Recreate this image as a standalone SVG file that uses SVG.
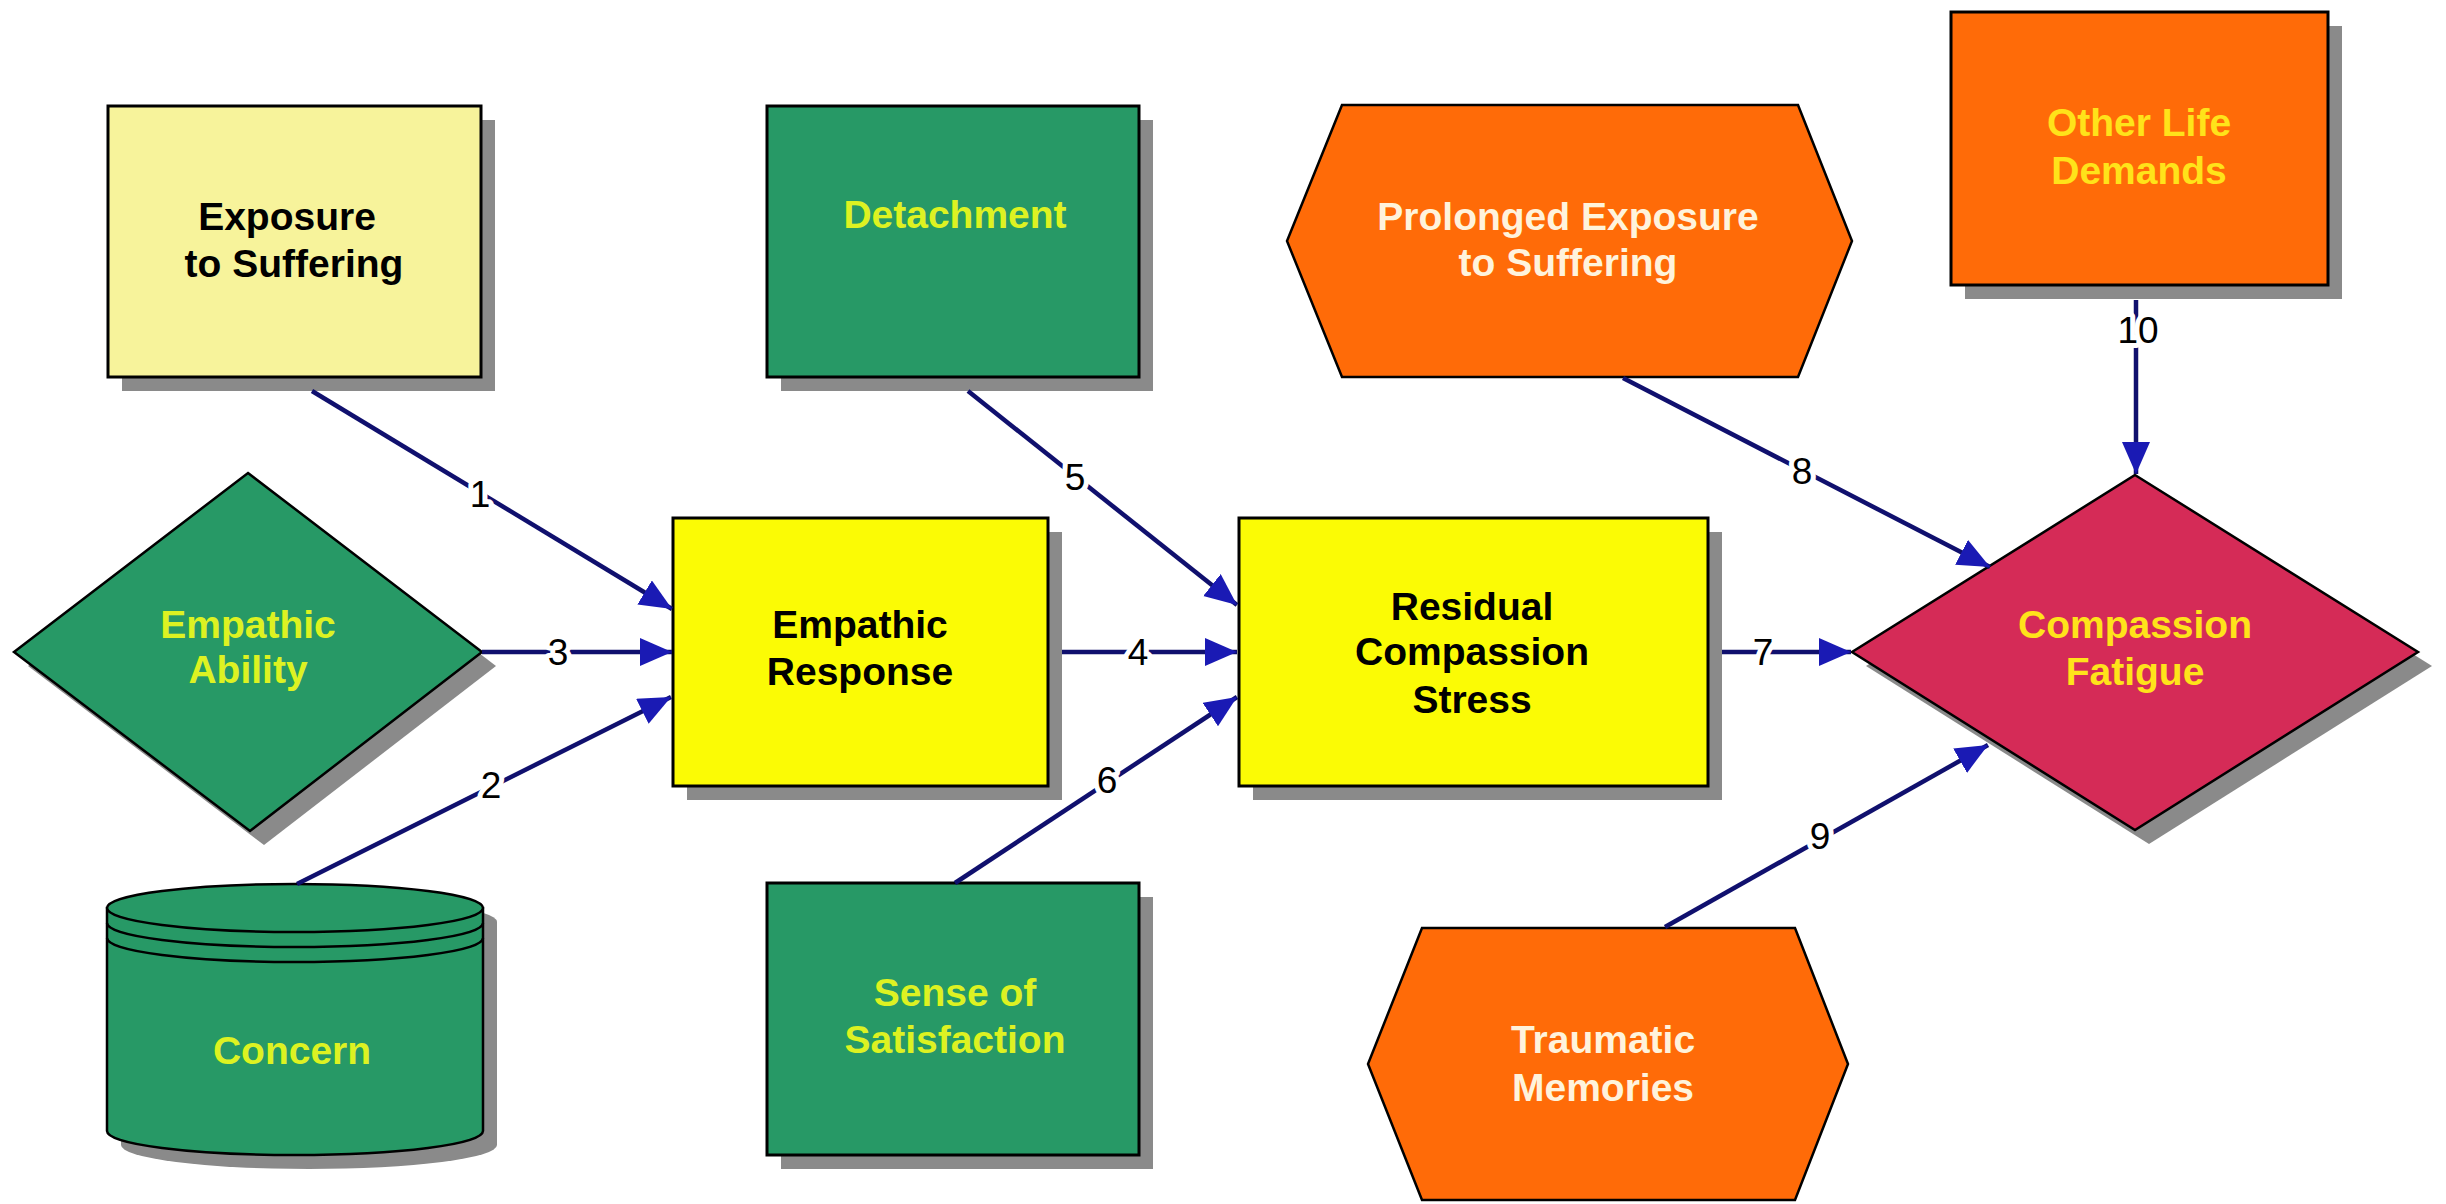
<svg xmlns="http://www.w3.org/2000/svg" width="2446" height="1204" viewBox="0 0 2446 1204">
<defs>
<marker id="ah" markerUnits="userSpaceOnUse" markerWidth="34" markerHeight="30" refX="32" refY="14" orient="auto"><path d="M0,0 L32,14 L0,28 Z" fill="#1A1AB4"/></marker>
</defs>
<style>
.shadow{fill:#8A8A8A}
.box{stroke:#000;stroke-width:3}
.thin{stroke:#000;stroke-width:2.5}
.lt{fill:#F7F39B}
.yl{fill:#FBFB05}
.gr{fill:#279966}
.or{fill:#FF6B08}
.rd{fill:#D52B57}
.t{font-family:"Liberation Sans",Arial,sans-serif;font-weight:bold;font-size:39px;text-anchor:middle}
.tb{fill:#000}
.tg{fill:#DDF222}
.ty{fill:#FFE31A}
.tw{fill:#FFF3DC}
.ln{fill:none;stroke:#10106E;stroke-width:4.5;marker-end:url(#ah)}
.lb{font-family:"Liberation Sans",Arial,sans-serif;font-size:37px;text-anchor:middle;fill:#000;stroke:#fff;stroke-width:10;paint-order:stroke;stroke-linejoin:round}
</style>
<rect width="2446" height="1204" fill="#fff"/>

<g id="exposure">
<rect class="shadow" x="122" y="120" width="373" height="271"/>
<rect class="box lt" x="108" y="106" width="373" height="271"/>
<text class="t tb" x="287" y="230">Exposure</text>
<text class="t tb" x="294" y="277">to Suffering</text>
</g>

<g id="detachment">
<rect class="shadow" x="781" y="120" width="372" height="271"/>
<rect class="box gr" x="767" y="106" width="372" height="271"/>
<text class="t tg" x="955" y="228">Detachment</text>
</g>

<g id="empathic-ability">
<polygon class="shadow" points="262,487 496,666 264,845 28,666"/>
<polygon class="thin gr" points="248,473 482,652 250,831 14,652"/>
<text class="t tg" x="248" y="638">Empathic</text>
<text class="t tg" x="248" y="683">Ability</text>
</g>

<g id="concern">
<path class="shadow" d="M121,922 A188,24 0 0 1 497,922 L497,1145 A188,24 0 0 1 121,1145 Z"/>
<path class="thin gr" d="M107,908 L107,1131 A188,24 0 0 0 483,1131 L483,908 Z"/>
<ellipse class="thin gr" cx="295" cy="908" rx="188" ry="24"/>
<path fill="none" stroke="#000" stroke-width="2.5" d="M107,923 A188,24 0 0 0 483,923 M107,938 A188,24 0 0 0 483,938"/>
<text class="t tg" x="292" y="1064">Concern</text>
</g>

<g id="empathic-response">
<rect class="shadow" x="687" y="532" width="375" height="268"/>
<rect class="box yl" x="673" y="518" width="375" height="268"/>
<text class="t tb" x="860" y="638">Empathic</text>
<text class="t tb" x="860" y="685">Response</text>
</g>

<g id="sense-of-satisfaction">
<rect class="shadow" x="781" y="897" width="372" height="272"/>
<rect class="box gr" x="767" y="883" width="372" height="272"/>
<text class="t tg" x="955" y="1006">Sense of</text>
<text class="t tg" x="955" y="1053">Satisfaction</text>
</g>

<g id="residual-compassion-stress">
<rect class="shadow" x="1253" y="532" width="469" height="268"/>
<rect class="box yl" x="1239" y="518" width="469" height="268"/>
<text class="t tb" x="1472" y="620">Residual</text>
<text class="t tb" x="1472" y="665">Compassion</text>
<text class="t tb" x="1472" y="713">Stress</text>
</g>

<g id="prolonged-exposure">
<polygon class="thin or" points="1342,105 1798,105 1852,241 1798,377 1342,377 1287,241"/>
<text class="t tw" x="1568" y="230">Prolonged Exposure</text>
<text class="t tw" x="1568" y="276">to Suffering</text>
</g>

<g id="traumatic-memories">
<polygon class="thin or" points="1422,928 1795,928 1848,1064 1795,1200 1422,1200 1368,1064"/>
<text class="t tw" x="1603" y="1053">Traumatic</text>
<text class="t tw" x="1603" y="1101">Memories</text>
</g>

<g id="other-life-demands">
<rect class="shadow" x="1965" y="26" width="377" height="273"/>
<rect class="box or" x="1951" y="12" width="377" height="273"/>
<text class="t ty" x="2139" y="136">Other Life</text>
<text class="t ty" x="2139" y="184">Demands</text>
</g>

<g id="compassion-fatigue">
<polygon class="shadow" points="2149,489 2432,666 2149,844 1866,666"/>
<polygon class="thin rd" points="2135,475 2418,652 2135,830 1852,652"/>
<text class="t ty" x="2135" y="638">Compassion</text>
<text class="t ty" x="2135" y="685">Fatigue</text>
</g>

<g id="connectors">
<line class="ln" x1="312" y1="391" x2="672" y2="609"/>
<line class="ln" x1="297" y1="884" x2="671" y2="697"/>
<line class="ln" x1="482" y1="652" x2="672" y2="652"/>
<line class="ln" x1="1062" y1="652" x2="1237" y2="652"/>
<line class="ln" x1="968" y1="391" x2="1237" y2="605"/>
<line class="ln" x1="955" y1="883" x2="1237" y2="697"/>
<line class="ln" x1="1722" y1="652" x2="1851" y2="652"/>
<line class="ln" x1="1623" y1="378" x2="1990" y2="567"/>
<line class="ln" x1="1665" y1="927" x2="1988" y2="745"/>
<line class="ln" x1="2136" y1="300" x2="2136" y2="474"/>
<text class="lb" x="480" y="507">1</text>
<text class="lb" x="491" y="798">2</text>
<text class="lb" x="558" y="665">3</text>
<text class="lb" x="1138" y="665">4</text>
<text class="lb" x="1075" y="490">5</text>
<text class="lb" x="1107" y="793">6</text>
<text class="lb" x="1763" y="665">7</text>
<text class="lb" x="1802" y="484">8</text>
<text class="lb" x="1820" y="849">9</text>
<text class="lb" x="2138" y="343">10</text>
</g>
</svg>
